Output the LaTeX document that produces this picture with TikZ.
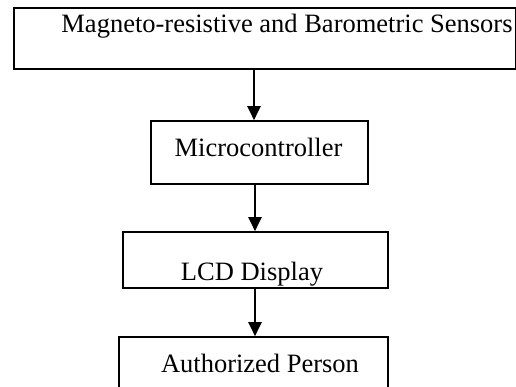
\documentclass[tikz,border=0pt]{standalone}
\usepackage{fontspec}
\setmainfont{Liberation Serif}
\usetikzlibrary{arrows.meta}
\begin{document}
\begin{tikzpicture}[x=1pt,y=-1pt,
  blockbox/.style={draw=black,line width=1.6pt,rectangle,inner sep=0pt},
  lbl/.style={anchor=base,inner sep=0pt,font=\fontsize{26.5}{30}\selectfont},
  arr/.style={line width=2.2pt,-{Triangle[length=14pt,width=13pt]}}]
\useasboundingbox (0,0) rectangle (516,387);
\begin{scope}
\clip (0,0) rectangle (516,387);
\node[blockbox,minimum width=502pt,minimum height=61pt] (b1) at (265,38.5) {};
\node[blockbox,minimum width=217pt,minimum height=63pt] (b2) at (259.5,152.5) {};
\node[blockbox,minimum width=265pt,minimum height=56pt] (b3) at (255.5,260) {};
\node[blockbox,minimum width=269pt,minimum height=80pt] (b4) at (253.5,377) {};
\end{scope}
\node[lbl] (t1) at (287,33) {Magneto-resistive and Barometric Sensors};
\node[lbl] (t2) at (258.5,157) {Microcontroller};
\node[lbl] (t3) at (252,280) {LCD Display};
\node[lbl] (t4) at (260,372) {Authorized Person};
\draw[arr] (254,0 |- b1.south) -- (254,0 |- b2.north);
\draw[arr] (255,0 |- b2.south) -- (255,0 |- b3.north);
\draw[arr] (255,0 |- b3.south) -- (255,0 |- b4.north);
\end{tikzpicture}
\end{document}
